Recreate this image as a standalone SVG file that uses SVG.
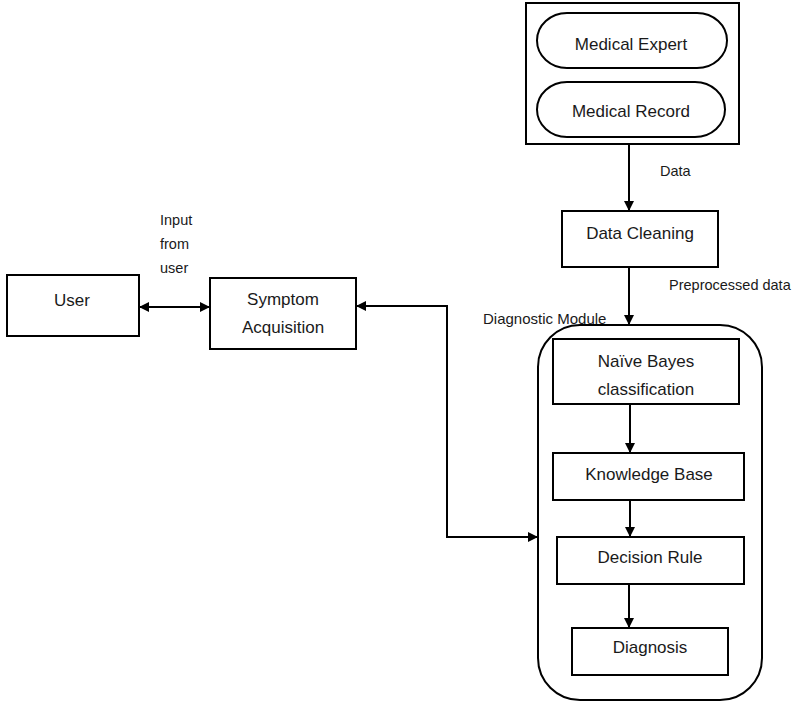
<svg xmlns="http://www.w3.org/2000/svg" width="796" height="702" viewBox="0 0 796 702">
<style>
.box{fill:#fff;stroke:#000;stroke-width:2}
.t{font-family:"Liberation Sans",Arial,sans-serif;font-size:17px;fill:#1a1a1a;text-anchor:middle}
.s{font-family:"Liberation Sans",Arial,sans-serif;font-size:14.5px;fill:#1a1a1a}
.c{fill:none;stroke:#000;stroke-width:2}
</style>
<defs>
<marker id="ah" viewBox="0 0 10 10" refX="10" refY="5" markerWidth="5" markerHeight="5" orient="auto-start-reverse" markerUnits="strokeWidth">
<path d="M0,0 L10,5 L0,10 z" fill="#000"/>
</marker>
</defs>
<rect width="796" height="702" fill="#fff"/>

<g id="sources">
<rect class="box" x="526" y="3" width="213" height="141"/>
</g>
<g id="medical-expert">
<rect class="box" x="537" y="13" width="190" height="55" rx="30" ry="27.5"/>
<text class="t" x="631" y="50">Medical Expert</text>
</g>
<g id="medical-record">
<rect class="box" x="537" y="82" width="188" height="55" rx="30" ry="27.5"/>
<text class="t" x="631" y="117">Medical Record</text>
</g>
<g id="data-cleaning">
<rect class="box" x="562" y="211" width="156" height="56"/>
<text class="t" x="640" y="239">Data Cleaning</text>
</g>
<g id="user">
<rect class="box" x="7" y="275" width="132" height="61"/>
<text class="t" x="72" y="306">User</text>
</g>
<g id="symptom-acquisition">
<rect class="box" x="210" y="278" width="146" height="71"/>
<text class="t" x="283" y="305">Symptom</text>
<text class="t" x="283" y="333">Acquisition</text>
</g>
<g id="diagnostic-module">
<rect class="box" x="538" y="325" width="224" height="375" rx="42" ry="42"/>
<text class="s" x="483" y="324" style="font-size:15px">Diagnostic Module</text>
</g>
<g id="naive-bayes">
<rect class="box" x="553" y="339" width="186" height="65"/>
<text class="t" x="646" y="367">Naïve Bayes</text>
<text class="t" x="646" y="395">classification</text>
</g>
<g id="knowledge-base">
<rect class="box" x="553" y="453" width="191" height="47"/>
<text class="t" x="649" y="480">Knowledge Base</text>
</g>
<g id="decision-rule">
<rect class="box" x="557" y="537" width="187" height="47"/>
<text class="t" x="650" y="563">Decision Rule</text>
</g>
<g id="diagnosis">
<rect class="box" x="572" y="628" width="156" height="47"/>
<text class="t" x="650" y="653">Diagnosis</text>
</g>

<g id="connectors">
<line class="c" x1="629" y1="144" x2="629" y2="211" marker-end="url(#ah)"/>
<line class="c" x1="629" y1="267" x2="629" y2="325" marker-end="url(#ah)"/>
<line class="c" x1="630" y1="404" x2="630" y2="453" marker-end="url(#ah)"/>
<line class="c" x1="630" y1="500" x2="630" y2="537" marker-end="url(#ah)"/>
<line class="c" x1="629" y1="584" x2="629" y2="628" marker-end="url(#ah)"/>
<line class="c" x1="139" y1="307" x2="210" y2="307" marker-start="url(#ah)" marker-end="url(#ah)"/>
<polyline class="c" points="356,306 447,306 447,537 538,537" marker-start="url(#ah)" marker-end="url(#ah)"/>
<text class="s" x="660" y="176">Data</text>
<text class="s" x="669" y="290">Preprocessed data</text>
<text class="s" x="160" y="225">Input</text>
<text class="s" x="160" y="249">from</text>
<text class="s" x="160" y="273">user</text>
</g>
</svg>
